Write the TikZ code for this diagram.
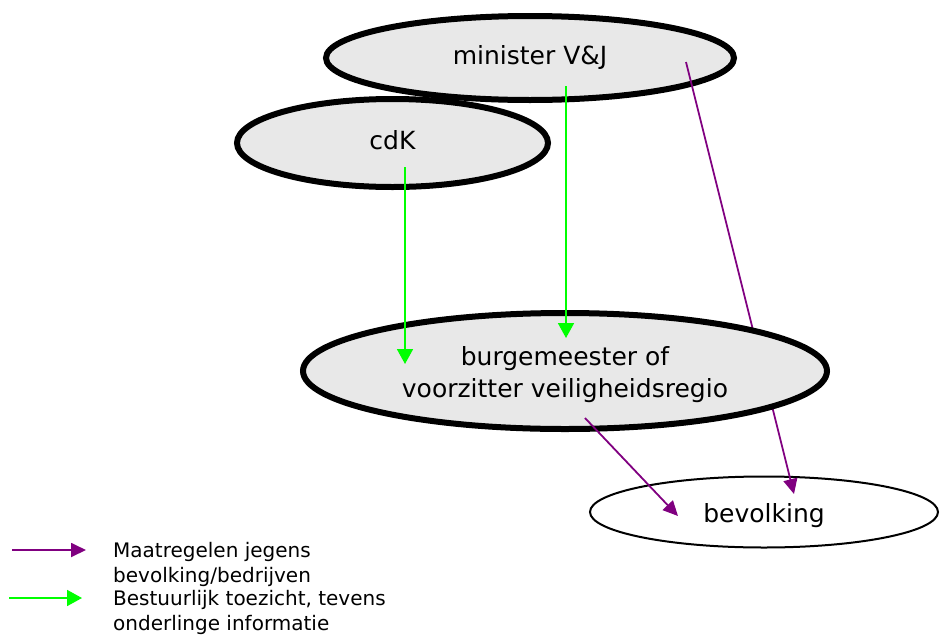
\documentclass[tikz,border=0pt]{standalone}
\usepackage{fontspec}
\setmainfont{DejaVu Sans}
\usetikzlibrary{shapes.geometric,arrows.meta,calc}
\definecolor{ellfill}{HTML}{E8E8E8}
\definecolor{purp}{HTML}{800080}
\definecolor{grn}{HTML}{00FF00}
\tikzset{
  bigell/.style={ellipse, draw=black, line width=6pt, fill=ellfill, inner sep=0pt,
    font=\fontsize{25}{32}\selectfont, text height=18pt, text depth=6pt, align=center},
  thinell/.style={ellipse, draw=black, line width=2pt, fill=white, inner sep=0pt,
    font=\fontsize{25}{32}\selectfont, text height=18pt, text depth=6pt},
  purparrow/.style={draw=purp, line width=1.8pt, -{Triangle[length=15pt, width=14pt]}},
  grnarrow/.style={draw=grn, line width=1.8pt, -{Triangle[length=15pt, width=16pt]}},
  legtext/.style={anchor=base west, inner sep=0pt, font=\fontsize{20}{25}\selectfont}
}
\begin{document}
\begin{tikzpicture}[x=1pt, y=-1pt]
\useasboundingbox (0,0) rectangle (940,635);
% bevolking
\node[thinell, minimum width=348pt, minimum height=71pt] (bev) at (764,512) {\raisebox{-4pt}{bevolking}};
% minister
\node[bigell, minimum width=408pt, minimum height=84pt] (min) at (530,58) {minister V\&J};
% cdK
\node[bigell, minimum width=311pt, minimum height=88pt] (cdk) at (392.5,143) {cdK};
% long purple arrow
\coordinate (p1s) at ($(min.center)+(156,4)$);
\coordinate (p1e) at ($(bev.center)+(30,-18)$);
\draw[purparrow] (p1s) -- (p1e);
% burgemeester
\node[bigell, minimum width=524pt, minimum height=116pt, text height=58pt, text depth=6pt] (burg) at (565,371) {burgemeester of\\voorzitter veiligheidsregio};
% green arrows
\coordinate (g1s) at ($(cdk.center)+(12.5,24)$);
\coordinate (g1e) at ($(burg.center)+(-160,-7)$);
\draw[grnarrow] (g1s) -- (g1e);
\coordinate (g2s) at ($(min.center)+(36,28)$);
\coordinate (g2e) at ($(burg.center)+(1,-33)$);
\draw[grnarrow] (g2s) -- (g2e);
% short purple arrow
\coordinate (p2s) at ($(burg.center)+(20,47)$);
\coordinate (p2e) at ($(bev.center)+(-86,4)$);
\draw[purparrow] (p2s) -- (p2e);
% legend
\coordinate (lp1) at (12,550);
\coordinate (lp2) at (86,550);
\draw[purparrow] (lp1) -- (lp2);
\coordinate (lg1) at (9,598);
\coordinate (lg2) at (82,598);
\draw[grnarrow] (lg1) -- (lg2);
\node[legtext] (t1) at (113,557) {Maatregelen jegens};
\node[legtext] (t2) at (113,582) {bevolking/bedrijven};
\node[legtext] (t3) at (113,605) {Bestuurlijk toezicht, tevens};
\node[legtext] (t4) at (113,630) {onderlinge informatie};
\end{tikzpicture}
\end{document}
